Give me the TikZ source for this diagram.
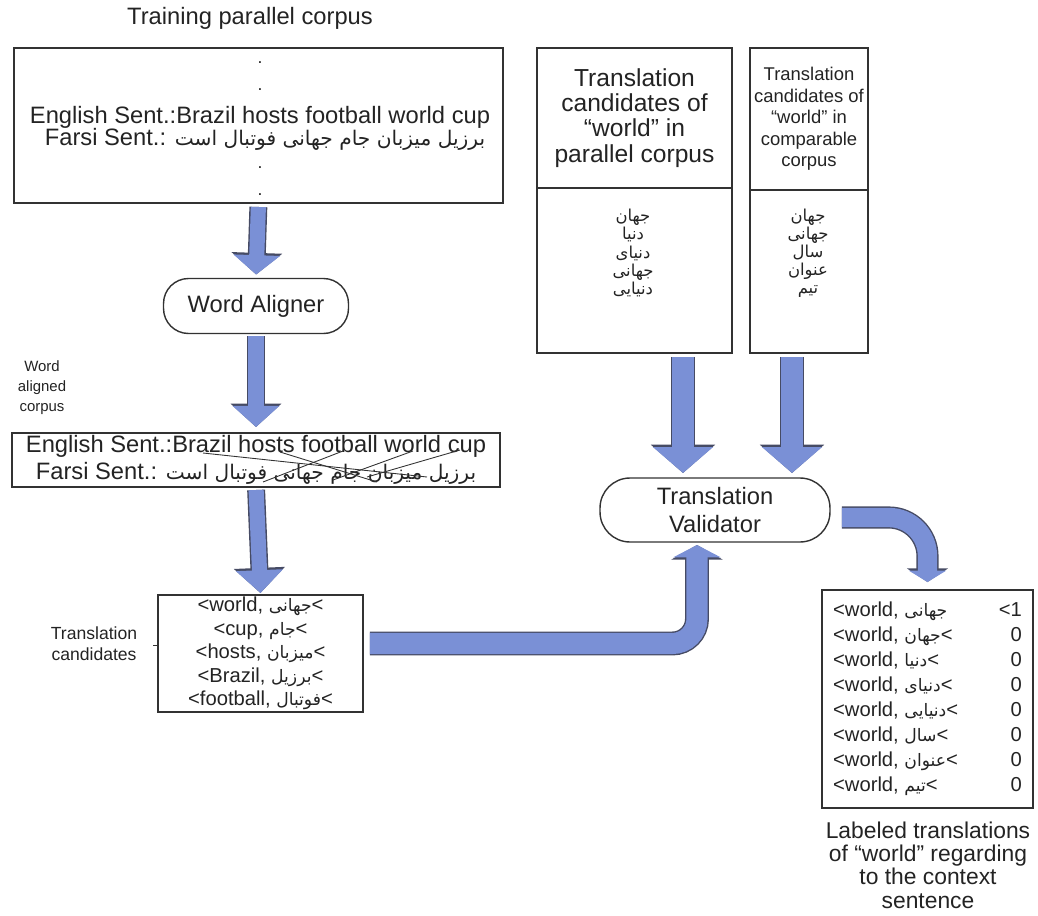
\documentclass[tikz,border=0pt]{standalone}
\usepackage{fontspec}
\setmainfont{Liberation Sans}
\newfontfamily\arabicfont[Script=Arabic,Scale=0.85]{DejaVu Sans}
\TeXXeTstate=1
\newcommand{\fatext}[1]{{\arabicfont\beginR #1\endR}}
\usetikzlibrary{positioning,arrows.meta,calc}

\definecolor{arrowblue}{RGB}{122,144,214}
\definecolor{arrowedge}{RGB}{70,75,100}
\definecolor{inkgray}{RGB}{35,35,35}
\definecolor{boxgray}{RGB}{50,50,50}

% thick blue block arrow with a dark rim
\newcommand{\blockarrow}[5][]{%
  \pgfmathsetmacro{\arrw}{#2+1.6}%
  \pgfmathsetmacro{\arrhw}{#3+2.2}%
  \pgfmathsetmacro{\arrhl}{#4+1.3}%
  \draw[#1, line width=\arrw pt, draw=arrowedge, -{Triangle[length=\arrhl pt, width=\arrhw pt]}] #5;
  \draw[#1, line width=#2pt, draw=arrowblue, -{Triangle[length=#4pt, width=#3pt]}] #5;
}

\begin{document}
\begin{tikzpicture}[x=0.02cm,y=-0.02cm,
  every node/.style={inner sep=0pt,outer sep=0pt,text=inkgray},
  box/.style={draw=boxgray,line width=0.8pt},
  pill/.style={draw=boxgray,line width=0.8pt,rounded corners=0.5cm},
  big/.style={font=\fontsize{13.5}{15.4}\selectfont},
  head/.style={font=\fontsize{14}{14.3}\selectfont,align=center},
  headsm/.style={font=\fontsize{10.5}{12.3}\selectfont,align=center},
  wordlist/.style={font=\fontsize{11}{10.3}\selectfont,align=center},
  pairs/.style={font=\fontsize{11.5}{13.4}\selectfont,align=center},
  lbl/.style={font=\fontsize{10}{12}\selectfont,align=center},
  lblsm/.style={font=\fontsize{8.5}{11.4}\selectfont,align=center},
  link/.style={line width=0.5pt,draw=boxgray}]

 \useasboundingbox (0,0) rectangle (1038,916);

 % left column
 \node (title) [big] at (250,18) {Training parallel corpus};
 \node (train) [box,minimum width=9.78cm,minimum height=3.1cm] at (258.5,125.5) {};
 \foreach \y [count=\i] in {63,90,168,195}
  \node (dot\i) at (260,\y) {.};
 \node (trainen) [big] at (260,117) {English Sent.:Brazil hosts football world cup};
 \node (trainfa) [big] at (265,139) {Farsi Sent.: \fatext{برزیل میزبان جام جهانی فوتبال است}};

 \node (aligner) [pill,big,minimum width=3.7cm,minimum height=1.1cm] at (256,306) {Word Aligner};

 \node (alignlbl) [lblsm] at (42,388) {Word\\aligned\\corpus};
 \node (aligned) [box,big,align=center,minimum width=9.76cm,minimum height=1.08cm] at (256,460)
  {English Sent.:Brazil hosts football world cup\\Farsi Sent.: \fatext{برزیل میزبان جام جهانی فوتبال است}};

 \coordinate (en1) at (203,453);
 \coordinate (en2) at (280,452);
 \coordinate (en3) at (343,451);
 \coordinate (en4) at (413,451);
 \coordinate (en5) at (460,450);
 \coordinate (fa1) at (427,477);
 \coordinate (fa2) at (377,482);
 \coordinate (fa3) at (263,482);
 \coordinate (fa4) at (333,480);
 \coordinate (fa5) at (367,477);
 \foreach \i in {1,...,5}
  \draw[link] (en\i) -- (fa\i);

 \node (cands) [box,pairs,minimum width=4.1cm,minimum height=2.34cm] at (260.5,653.5)
  {<world, \fatext{جهانی}<\\<cup, \fatext{جام}<\\<hosts, \fatext{میزبان}<\\<Brazil, \fatext{برزیل}<\\<football, \fatext{فوتبال}<};
 \node (candlbl) [lbl] at (94,644) {Translation\\candidates};
 \coordinate (tick) at ([xshift=-0.1cm,yshift=0.17cm]cands.west);
 \draw[link] (tick) -- (tick -| cands.west);

 % right column
 \node (parhead) [box,head,minimum width=3.9cm,minimum height=2.8cm] at (634.5,118)
  {Translation\\candidates of\\“world” in\\parallel corpus};
 \node (parbox) [box,minimum width=3.9cm,minimum height=3.3cm] at (634.5,270.5) {};
 \node (parwords) [wordlist] at (633,253)
  {\fatext{جهان}\\\fatext{دنیا}\\\fatext{دنیای}\\\fatext{جهانی}\\\fatext{دنیایی}};

 \node (comphead) [box,headsm,minimum width=2.36cm,minimum height=2.84cm] at (809,119)
  {Translation\\candidates of\\“world” in\\comparable\\corpus};
 \node (compbox) [box,minimum width=2.36cm,minimum height=3.26cm] at (809,271.5) {};
 \node (compwords) [wordlist] at (808,253)
  {\fatext{جهان}\\\fatext{جهانی}\\\fatext{سال}\\\fatext{عنوان}\\\fatext{تیم}};

 \node (valid) [pill,big,align=center,minimum width=4.6cm,minimum height=1.28cm,rounded corners=0.6cm] at (715,510)
  {Translation\\Validator};

 \node (res) [box,font=\fontsize{11.5}{14.2}\selectfont,minimum width=4.22cm,minimum height=4.36cm] at (927.5,699)
  {\begin{tabular}{@{}p{3.55cm}@{}r@{}}
   <world, \fatext{جهانی}\hfill < & 1\\
   <world, \fatext{جهان}< & 0\\
   <world, \fatext{دنیا}< & 0\\
   <world, \fatext{دنیای}< & 0\\
   <world, \fatext{دنیایی}< & 0\\
   <world, \fatext{سال}< & 0\\
   <world, \fatext{عنوان}< & 0\\
   <world, \fatext{تیم}< & 0
  \end{tabular}};
 \node (rescap) [font=\fontsize{13}{13.3}\selectfont,align=center] at (928,865)
  {Labeled translations\\of “world” regarding\\to the context\\sentence};

 % block arrows
 \coordinate (parout) at ([xshift=0.97cm]parbox.south);
 \coordinate (compout) at ([xshift=-0.34cm]compbox.south);
 \coordinate (lstart) at ([xshift=0.14cm,yshift=0.2cm]cands.east);
 \coordinate (lend) at ([xshift=-0.36cm]valid.south);
 \coordinate (cstart) at ([xshift=0.24cm,yshift=-0.15cm]valid.east);

 \blockarrow[shorten <=0.08cm,shorten >=0.08cm]{8.6}{26}{11}{(train.south) -- (aligner.north)}
 \blockarrow[shorten <=0.06cm,shorten >=0.12cm]{8.6}{26}{12}{(aligner.south) -- (aligned.north)}
 \blockarrow[shorten <=0.06cm,shorten >=0.04cm]{8.6}{26}{13}{(aligned.south) -- (cands.north)}
 \blockarrow[shorten <=0.08cm,shorten >=0.1cm]{12}{33.5}{14.8}{(parout) -- (parout |- valid.north)}
 \blockarrow[shorten <=0.08cm,shorten >=0.1cm]{12}{33.5}{14.8}{(compout) -- (compout |- valid.north)}
 \blockarrow[rounded corners=14pt,shorten >=0.06cm]{12}{26.7}{7}{(lstart) -| (lend)}
 \blockarrow[rounded corners=22pt,shorten >=0.16cm]{11}{21}{6.5}{(cstart) -| (res.north)}
\end{tikzpicture}
\end{document}
